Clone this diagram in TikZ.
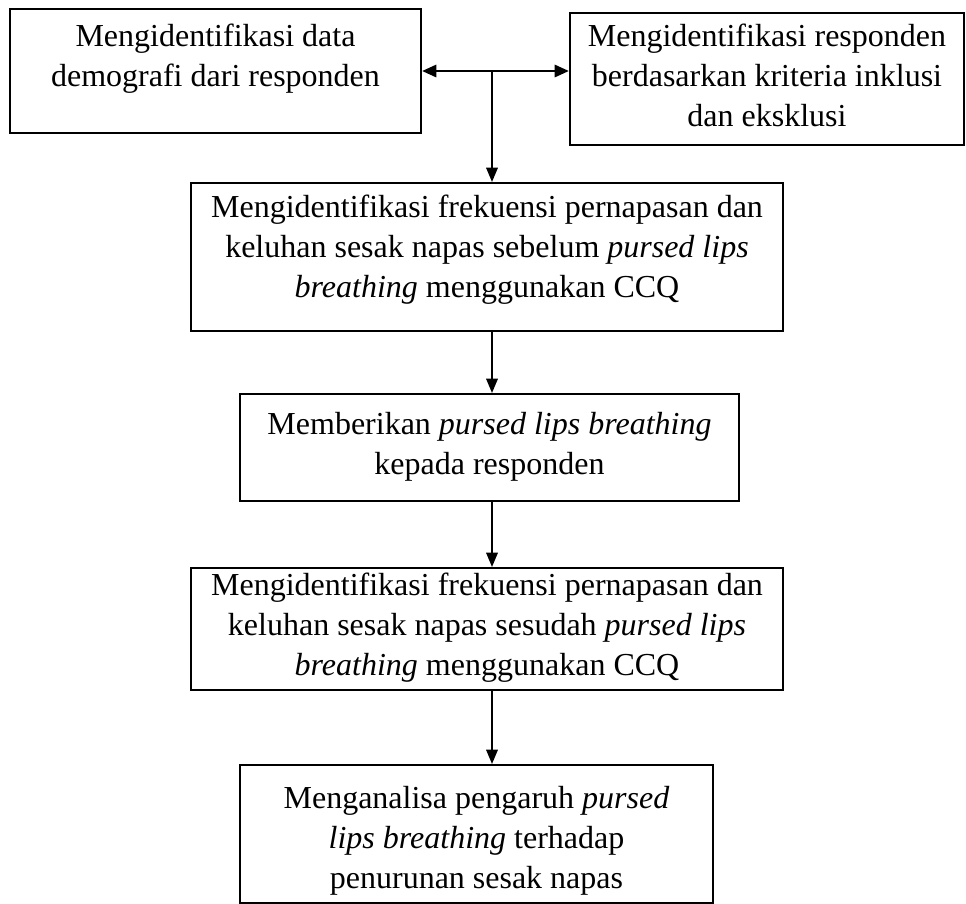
\documentclass[tikz,border=0pt]{standalone}
\usepackage{fontspec}
\setmainfont{Liberation Serif}
\usetikzlibrary{arrows.meta,calc,positioning}

\begin{document}
\begin{tikzpicture}[x=0.35pt,y=-0.35pt,
  box/.style={draw,line width=0.7pt,align=center,inner ysep=0pt,anchor=north,
    font=\fontsize{11.2}{14}\selectfont},
  flow/.style={line width=0.7pt,-{Triangle[length=5pt,width=4pt]}}]
  \useasboundingbox (0,0) rectangle (966,904);
  % top row
  \node[box,minimum width=143.85pt,text height=27.13pt,text depth=16.28pt] (demografi) at (215.5,8)
    {Mengidentifikasi data\\demografi dari responden};
  \node[box,minimum width=137.9pt,text height=39.73pt,text depth=6.48pt] (kriteria) at (767,12)
    {Mengidentifikasi responden\\berdasarkan kriteria inklusi\\dan eksklusi};
  % main column
  \node[box,minimum width=207.2pt,text height=40.08pt,text depth=11.73pt] (frekAwal) at (487,182)
    {Mengidentifikasi frekuensi pernapasan dan\\keluhan sesak napas sebelum \textit{pursed lips}\\\textit{breathing} menggunakan CCQ};
  \node[box,minimum width=174.65pt,text height=28.18pt,text depth=9.28pt] (pemberian) at (489.5,393)
    {Memberikan \textit{pursed lips breathing}\\kepada responden};
  \node[box,minimum width=207.2pt,text height=37.63pt,text depth=5.08pt] (frekAkhir) at (487,567)
    {Mengidentifikasi frekuensi pernapasan dan\\keluhan sesak napas sesudah \textit{pursed lips}\\\textit{breathing} menggunakan CCQ};
  \node[box,minimum width=165.55pt,text height=43.23pt,text depth=5.08pt] (analisa) at (476.5,764)
    {Menganalisa pengaruh \textit{pursed}\\\textit{lips breathing} terhadap\\penurunan sesak napas};
  % connectors
  \draw[line width=1pt,{Triangle[length=5pt,width=4.2pt]}-{Triangle[length=5pt,width=4.2pt]}]
    (demografi.east) -- (demografi.east -| kriteria.west);
  \coordinate (split) at (492,72);
  \draw[flow] (split) -- (split |- frekAwal.north);
  \draw[flow] (split |- frekAwal.south) -- (split |- pemberian.north);
  \draw[flow] (split |- pemberian.south) -- (split |- frekAkhir.north);
  \draw[flow] (split |- frekAkhir.south) -- (split |- analisa.north);
\end{tikzpicture}
\end{document}
